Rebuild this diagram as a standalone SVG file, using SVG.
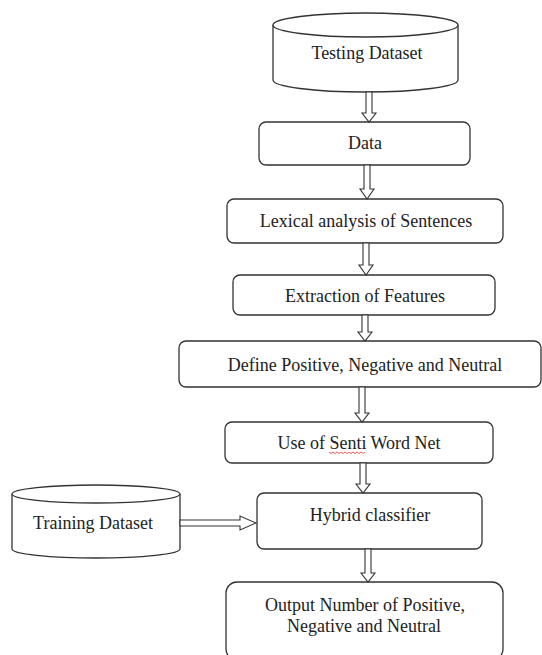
<svg xmlns="http://www.w3.org/2000/svg" width="542" height="655" viewBox="0 0 542 655">
<style>
.box{fill:#fff;stroke:#333;stroke-width:1.3}
.arr{fill:#fff;stroke:#333;stroke-width:1.1;stroke-linejoin:miter}
.t{font-family:"Liberation Serif","Times New Roman",serif;font-size:18px;fill:#222;text-anchor:middle;dominant-baseline:central}
</style>
<rect width="542" height="655" fill="#fff"/>
<g id="testing-dataset">
<path class="box" d="M273,25 L273,80 A92.5,12 0 0 0 458,80 L458,25"/>
<ellipse class="box" cx="365.5" cy="25" rx="92.5" ry="12"/>
<text class="t" x="367" y="53">Testing Dataset</text>
</g>
<g id="data">
<rect class="box" x="259" y="122" width="211" height="43" rx="7"/>
<text class="t" x="365" y="143">Data</text>
</g>
<g id="lexical">
<rect class="box" x="227" y="199" width="276" height="44" rx="7"/>
<text class="t" x="366" y="221">Lexical analysis of Sentences</text>
</g>
<g id="extraction">
<rect class="box" x="233" y="275" width="262" height="40" rx="7"/>
<text class="t" x="365" y="296">Extraction of Features</text>
</g>
<g id="define">
<rect class="box" x="179" y="341" width="362" height="46" rx="7"/>
<text class="t" x="365" y="365">Define Positive, Negative and Neutral</text>
</g>
<g id="sentiwordnet">
<rect class="box" x="225" y="422" width="268" height="41" rx="7"/>
<text class="t" x="359" y="443">Use of Senti Word Net</text>
<path d="M329,452 l2,1.5 l2,-1.5 l2,1.5 l2,-1.5 l2,1.5 l2,-1.5 l2,1.5 l2,-1.5 l2,1.5 l2,-1.5 l2,1.5 l2,-1.5 l2,1.5 l2,-1.5 l2,1.5 l2,-1.5 l2,1.5 l2,-1.5" fill="none" stroke="#e03030" stroke-width="0.8"/>
</g>
<g id="training-dataset">
<path class="box" d="M12,494 L12,549 A84,9 0 0 0 180,549 L180,494"/>
<ellipse class="box" cx="96" cy="494" rx="84" ry="9"/>
<text class="t" x="93" y="523">Training Dataset</text>
</g>
<g id="hybrid">
<rect class="box" x="257" y="493" width="225" height="56" rx="7"/>
<text class="t" x="370" y="515">Hybrid classifier</text>
</g>
<g id="output">
<rect class="box" x="226" y="582" width="277" height="78" rx="11"/>
<text class="t" x="365" y="605">Output Number of Positive,</text>
<text class="t" x="364" y="626">Negative and Neutral</text>
</g>
<g id="connectors">
<path class="arr" d="M366,92 L372,92 L372,113 L376,113 L369,122 L362,113 L366,113 Z"/>
<path class="arr" d="M364,165 L370,165 L370,189 L374,189 L367,199 L360,189 L364,189 Z"/>
<path class="arr" d="M363,243 L369,243 L369,265 L373,265 L366,275 L359,265 L363,265 Z"/>
<path class="arr" d="M362,315 L368,315 L368,332 L372,332 L365,341 L358,332 L362,332 Z"/>
<path class="arr" d="M359,387 L365,387 L365,413 L369,413 L362,422 L355,413 L359,413 Z"/>
<path class="arr" d="M360,463 L366,463 L366,484 L370,484 L363,493 L356,484 L360,484 Z"/>
<path class="arr" d="M365,549 L371,549 L371,573 L375,573 L368,582 L361,573 L365,573 Z"/>
<path class="arr" d="M180,520 L240,520 L240,516 L256,523 L240,530 L240,526 L180,526 Z"/>
</g>
</svg>
